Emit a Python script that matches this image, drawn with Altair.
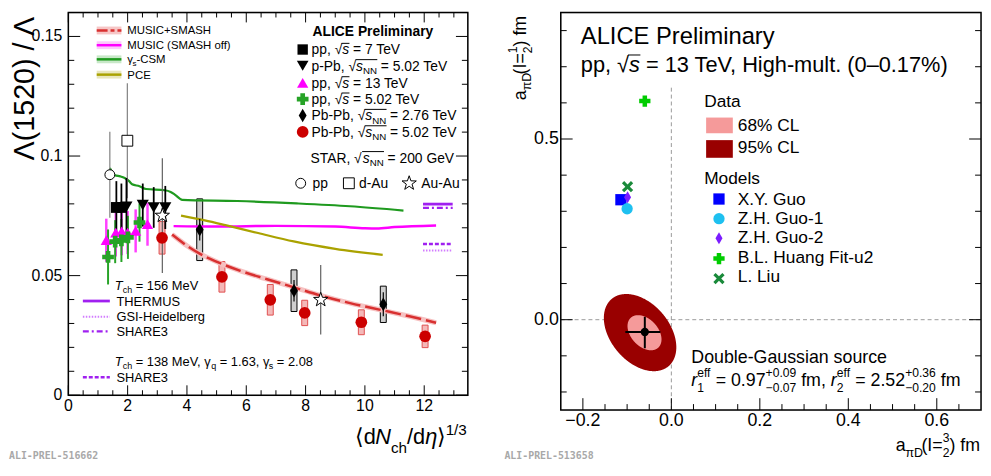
import numpy as np
import pandas as pd
import altair as alt

FONT = "Liberation Sans"

# ===================== LEFT PANEL : Lambda(1520)/Lambda =====================
pp7_x = [1.62, 1.79]
pp7_y = [0.0785, 0.0785]
pp7_err = [0.0110, 0.0100]

ppb_x = [1.96, 2.51, 2.88, 3.27]
ppb_y = [0.0788, 0.0795, 0.0785, 0.0785]
ppb_err = [0.0120, 0.0090, 0.0085, 0.0090]

pp13_x = [1.28, 1.60, 1.80, 2.00, 2.27, 2.67]
pp13_y = [0.0648, 0.0680, 0.0685, 0.0680, 0.0687, 0.0715]
pp13_err = [0.0090, 0.0100, 0.0100, 0.0090, 0.0090, 0.0090]

pp5_x = [1.34, 1.58, 1.79, 2.01, 2.40]
pp5_y = [0.0578, 0.0642, 0.0647, 0.0660, 0.0722]
pp5_err = [0.0115, 0.0090, 0.0090, 0.0090, 0.0080]

pb276_x = [4.43, 7.61, 10.62]
pb276_y = [0.0692, 0.0437, 0.0380]
pb276_stat = [0.0045, 0.0045, 0.0050]
pb276_sys = [0.0129, 0.0087, 0.0076]

pb502_x = [3.16, 5.18, 6.81, 7.97, 9.88, 12.03]
pb502_y = [0.0658, 0.0495, 0.0399, 0.0344, 0.0305, 0.0246]
pb502_sys = [0.0068, 0.0064, 0.0064, 0.0053, 0.0052, 0.0047]

star_pp_x, star_pp_y, star_pp_err = [1.40], [0.0922], [0.0180]
star_dau_x, star_dau_y, star_dau_err = [1.99], [0.1064], [0.0240]
star_auau_x, star_auau_y, star_auau_err = [3.17, 8.51], [0.0751, 0.0399], [0.0240, 0.0145]

music_smash_x = [3.5, 4.0, 4.4, 5.1, 5.8, 6.7, 7.5, 8.5, 9.5, 10.6, 11.5, 12.4]
music_smash_y = [0.0672, 0.0625, 0.0594, 0.0553, 0.0520, 0.0485, 0.0455, 0.0417, 0.0385, 0.0355, 0.0330, 0.0303]
music_x = [3.55, 5.0, 7.0, 9.0, 10.0, 10.4, 11.0, 12.4]
music_y = [0.0707, 0.0705, 0.0708, 0.0705, 0.0698, 0.0697, 0.0703, 0.0710]
csm_x = [1.40, 1.57, 1.75, 1.90, 2.05, 2.15, 2.40, 2.62, 3.25, 3.45, 3.60, 3.84, 5.7, 7.7, 9.5, 11.3]
csm_y = [0.0950, 0.0920, 0.0915, 0.0908, 0.0895, 0.0882, 0.0874, 0.0862, 0.0857, 0.0850, 0.0838, 0.0817, 0.0812, 0.0802, 0.0790, 0.0772]
pce_x = [3.8, 4.6, 5.3, 6.4, 7.6, 9.0, 10.6]
pce_y = [0.0751, 0.0731, 0.0711, 0.0678, 0.0643, 0.0612, 0.0587]

thermal_x = [11.96, 12.96]
thermus_y = [0.0799, 0.0799]
share3_156_y = [0.0783, 0.0783]
share3_138_y = [0.0632, 0.0632]
gsi_y = [0.0605, 0.0605]

L_XMAJ = [0, 2, 4, 6, 8, 10, 12]
L_XLAB = ["0", "2", "4", "6", "8", "10", "12"]
L_XMIN = [0.5, 1, 1.5, 2.5, 3, 3.5, 4.5, 5, 5.5, 6.5, 7, 7.5, 8.5, 9, 9.5, 10.5, 11, 11.5, 12.5, 13]
L_YMAJ = [0, 0.05, 0.1, 0.15]
L_YLAB = ["0", "0.05", "0.1", "0.15"]
L_YMIN = [0.01, 0.02, 0.03, 0.04, 0.06, 0.07, 0.08, 0.09, 0.11, 0.12, 0.13, 0.14, 0.16]

# ===================== RIGHT PANEL : scattering lengths =====================
model_names = ["X.Y. Guo", "Z.H. Guo-1", "Z.H. Guo-2", "B.L. Huang Fit-u2", "L. Liu"]
model_x = [-0.114, -0.100, -0.099, -0.060, -0.099]
model_y = [0.332, 0.307, 0.339, 0.605, 0.368]

meas_x, meas_y = [-0.060], [-0.034]
meas_xlo, meas_xhi = [-0.104], [-0.025]
meas_ylo, meas_yhi = [-0.079], [0.008]

cl_names = ["95% CL", "68% CL"]
cl_cx = [-0.0707, -0.0607]
cl_cy = [-0.0357, -0.0360]
cl_kx = [0.0819, 0.0384]
cl_ky = [0.1068, 0.0486]
cl_rho = [-0.38, -0.38]

R_XMAJ = [-0.2, 0.0, 0.2, 0.4, 0.6]
R_XLAB = ["−0.2", "0.0", "0.2", "0.4", "0.6"]
R_XMIN = [-0.15, -0.1, -0.05, 0.05, 0.1, 0.15, 0.25, 0.3, 0.35, 0.45, 0.5, 0.55, 0.65]
R_YMAJ = [0.0, 0.5]
R_YLAB = ["0.0", "0.5"]
R_YMIN = [-0.2, -0.1, 0.1, 0.2, 0.3, 0.4, 0.6, 0.7, 0.8]

# ===================== geometry / style =====================
W1, H1 = 404, 387
W2, H2 = 425, 402
X1D, Y1D = [0, 13.47], [0, 0.16]
X2D, Y2D = [-0.25, 0.70], [-0.25, 0.85]
xs1 = alt.Scale(domain=X1D, nice=False, zero=False)
ys1 = alt.Scale(domain=Y1D, nice=False, zero=False)
xs2 = alt.Scale(domain=X2D, nice=False, zero=False)
ys2 = alt.Scale(domain=Y2D, nice=False, zero=False)

C_RED, C_REDL, C_REDBAND = "#cc0000", "#d83030", "#f6c2c2"
C_MAG, C_GRN_P, C_GRN_L, C_OLV = "#ff00ff", "#27a327", "#1f9a1f", "#aaa200"
C_PUR, C_GSI = "#a020f0", "#d27cff"
MODEL_COLORS = ["#0000ff", "#1ec0f0", "#7b1cff", "#00cc00", "#1a8a3a"]
THIN_DIAMOND = "M0,-1L0.58,0L0,1L-0.58,0Z"
XCROSS = "M-1,-0.6L-0.6,-1L0,-0.4L0.6,-1L1,-0.6L0.4,0L1,0.6L0.6,1L0,0.4L-0.6,1L-1,0.6L-0.4,0Z"
STAR = ("M0,-1L0.235,-0.324L0.951,-0.309L0.38,0.124L0.588,0.809L0,0.4L-0.588,0.809"
        "L-0.38,0.124L-0.951,-0.309L-0.235,-0.324Z")
MODEL_SHAPES = ["square", "circle", THIN_DIAMOND, "cross", XCROSS]

ONE = pd.DataFrame({"a": [0]})

WID = {' ': .278, '!': .278, '%': .889, '(': .333, ')': .333, '+': .584, ',': .278, '-': .333, '.': .278,
       '/': .278, '=': .584, '–': .556, '−': .584, '√': .549, 'γ': .45, 'η': .55, 'π': .55, '⟨': .39,
       '⟩': .39, 'Λ': .667, 'A': .667, 'B': .667, 'C': .722, 'D': .722, 'E': .667, 'F': .611, 'G': .778,
       'H': .722, 'I': .278, 'J': .5, 'K': .667, 'L': .556, 'M': .833, 'N': .722, 'O': .778, 'P': .667,
       'Q': .778, 'R': .722, 'S': .667, 'T': .611, 'U': .722, 'V': .667, 'W': .944, 'X': .667, 'Y': .667,
       'Z': .611, 'a': .556, 'b': .556, 'c': .5, 'd': .556, 'e': .556, 'f': .278, 'g': .556, 'h': .556,
       'i': .222, 'j': .222, 'k': .5, 'l': .222, 'm': .833, 'n': .556, 'o': .556, 'p': .556, 'q': .556,
       'r': .333, 's': .5, 't': .278, 'u': .556, 'v': .5, 'w': .722, 'x': .5, 'y': .5, 'z': .5}


def tw(s, size):
    return sum(WID.get(c, 0.556) for c in s) * size


def compose(parts, x, y, size, rot=False, subdy=0.3, supdy=0.42, ovl=None):
    rows, adv = [], 0.0
    ov_start = None
    for p in parts:
        kind = p[0]
        if kind == 'ovs':
            ov_start = adv - 0.05 * size
            continue
        if kind == 'ove':
            if ovl is not None:
                ovl.append((x + ov_start, x + adv + 0.02 * size, y - 0.8 * size))
            continue
        if kind == 'stack':
            s = size * 0.68
            rows.append((p[1], s, 'normal', adv, -0.5 * size))
            rows.append((p[2], s, 'normal', adv, 0.33 * size))
            adv += max(tw(p[1], s), tw(p[2], s))
            continue
        text = p[1]
        if kind == 'sub':
            s, dy = size * 0.7, subdy * size
        elif kind == 'sup':
            s, dy = size * 0.7, -supdy * size
        else:
            s, dy = size, 0.0
        st = 'italic' if kind == 'i' else 'normal'
        lead = len(text) - len(text.lstrip(' '))
        core = text.strip(' ')
        if core:
            rows.append((core, s, st, adv + tw(' ' * lead, s), dy))
        adv += tw(text, s)
    out = []
    for t, s, st, dx, dy in rows:
        if rot:
            out.append(dict(px=x + dy, py=y - dx, t=t, s=s, st=st))
        else:
            out.append(dict(px=x + dx, py=y + dy, t=t, s=s, st=st))
    return out, adv


def L(xa, ya):
    return xa - 68, (ya - 5) * H1 / 390


def R(xa, ya):
    return xa - 563, (ya - 5) * H2 / 405


def conv1(px, py):
    return X1D[0] + px / W1 * (X1D[1] - X1D[0]), Y1D[1] - py / H1 * (Y1D[1] - Y1D[0])


def conv2(px, py):
    return X2D[0] + px / W2 * (X2D[1] - X2D[0]), Y2D[1] - py / H2 * (Y2D[1] - Y2D[0])


def text_layers(rows, conv, xs, ys, angle=0, color='black', weight='normal', font=FONT):
    if not rows:
        return []
    df = pd.DataFrame(rows)
    xd, yd = conv(df['px'].to_numpy(), df['py'].to_numpy())
    df = df.assign(xd=xd, yd=yd)
    out = []
    for st in ('normal', 'italic'):
        d = df[df['st'] == st]
        if d.empty:
            continue
        out.append(alt.Chart(d).mark_text(align='left', baseline='alphabetic', font=font, fontStyle=st,
                                          fontWeight=weight, angle=angle, color=color).encode(
            x=alt.X('xd:Q', scale=xs, axis=None), y=alt.Y('yd:Q', scale=ys, axis=None),
            text=alt.Text('t:N'), size=alt.Size('s:Q', scale=None, legend=None)))
    return out


def overline_layer(ovl, conv, xs, ys):
    a = np.array(ovl, float)
    x1, yy = conv(a[:, 0], a[:, 2])
    x2, _ = conv(a[:, 1], a[:, 2])
    d = pd.DataFrame({'x1': x1, 'x2': x2, 'y': yy})
    return alt.Chart(d).mark_rule(color='black', strokeWidth=1).encode(
        x=alt.X('x1:Q', scale=xs, axis=None), x2='x2:Q', y=alt.Y('y:Q', scale=ys, axis=None))


def pt_px(px, py, shape, size, fill, stroke=None, sw=1.0):
    kw = dict(shape=shape, size=size, filled=True, fill=fill, opacity=1)
    if stroke:
        kw.update(stroke=stroke, strokeWidth=sw)
    else:
        kw.update(strokeWidth=0)
    return alt.Chart(ONE).mark_point(**kw).encode(x=alt.value(px), y=alt.value(py))


def rule_px(x1, x2, y, color, width, dash=None):
    kw = dict(color=color, strokeWidth=width)
    if dash:
        kw['strokeDash'] = dash
    return alt.Chart(ONE).mark_rule(**kw).encode(x=alt.value(x1), x2=alt.value(x2), y=alt.value(y))


def rect_px(x1, x2, y1, y2, color):
    return alt.Chart(ONE).mark_rect(color=color, opacity=1).encode(
        x=alt.value(x1), x2=alt.value(x2), y=alt.value(y1), y2=alt.value(y2))


def frame_px(W, H):
    return alt.Chart(ONE).mark_rect(fillOpacity=0, stroke='black', strokeWidth=1.5).encode(
        x=alt.value(0), x2=alt.value(W), y=alt.value(0), y2=alt.value(H))


def tick_layers(xs, ys, W, H, xmaj, xmin, ymaj, ymin, lx, ly, top=True):
    out = []
    for vals, ln in ((xmaj, lx[0]), (xmin, lx[1])):
        d = pd.DataFrame({'v': vals})
        out.append(alt.Chart(d).mark_rule(color='black', strokeWidth=1).encode(
            x=alt.X('v:Q', scale=xs, axis=None), y=alt.value(H), y2=alt.value(H - ln)))
        if top:
            out.append(alt.Chart(d).mark_rule(color='black', strokeWidth=1).encode(
                x=alt.X('v:Q', scale=xs, axis=None), y=alt.value(0), y2=alt.value(ln)))
    for vals, ln in ((ymaj, ly[0]), (ymin, ly[1])):
        d = pd.DataFrame({'v': vals})
        out.append(alt.Chart(d).mark_rule(color='black', strokeWidth=1).encode(
            y=alt.Y('v:Q', scale=ys, axis=None), x=alt.value(0), x2=alt.value(ln)))
        out.append(alt.Chart(d).mark_rule(color='black', strokeWidth=1).encode(
            y=alt.Y('v:Q', scale=ys, axis=None), x=alt.value(W), x2=alt.value(W - ln)))
    return out


def tick_labels(xs, ys, H, xvals, xlabs, yvals, ylabs, size, xpad, ypad):
    dx = pd.DataFrame({'v': xvals, 'lab': xlabs})
    dy = pd.DataFrame({'v': yvals, 'lab': ylabs})
    return [
        alt.Chart(dx).mark_text(align='center', baseline='top', font=FONT, fontSize=size, color='black').encode(
            x=alt.X('v:Q', scale=xs, axis=None), y=alt.value(H + xpad), text='lab:N'),
        alt.Chart(dy).mark_text(align='right', baseline='middle', font=FONT, fontSize=size, color='black').encode(
            y=alt.Y('v:Q', scale=ys, axis=None), x=alt.value(-ypad), text='lab:N'),
    ]


def errdf(x, y, e):
    y = np.asarray(y, float)
    e = np.asarray(e, float)
    return pd.DataFrame({'x': x, 'y': y, 'lo': y - e, 'hi': y + e})


def err_layer(df, xs, ys, color, width):
    return alt.Chart(df).mark_rule(color=color, strokeWidth=width).encode(
        x=alt.X('x:Q', scale=xs, axis=None), y=alt.Y('lo:Q', scale=ys, axis=None), y2='hi:Q')


def pts_layer(df, xs, ys, shape, size, fill, stroke=None, sw=1.0):
    kw = dict(shape=shape, size=size, filled=True, fill=fill, opacity=1)
    if stroke:
        kw.update(stroke=stroke, strokeWidth=sw)
    else:
        kw.update(strokeWidth=0)
    return alt.Chart(df).mark_point(**kw).encode(
        x=alt.X('x:Q', scale=xs, axis=None), y=alt.Y('y:Q', scale=ys, axis=None))


def line_layer(x, y, xs, ys, color, width, dash=None):
    kw = dict(color=color, strokeWidth=width, interpolate='monotone')
    if dash:
        kw['strokeDash'] = dash
    return alt.Chart(pd.DataFrame({'x': x, 'y': y})).mark_line(**kw).encode(
        x=alt.X('x:Q', scale=xs, axis=None), y=alt.Y('y:Q', scale=ys, axis=None))


def box_layer(x, y, e, half, xs, ys, fill, stroke):
    x = np.asarray(x, float)
    y = np.asarray(y, float)
    e = np.asarray(e, float)
    d = pd.DataFrame({'x1': x - half, 'x2': x + half, 'y1': y - e, 'y2': y + e})
    return alt.Chart(d).mark_rect(fill=fill, stroke=stroke, strokeWidth=1, opacity=1).encode(
        x=alt.X('x1:Q', scale=xs, axis=None), x2='x2:Q',
        y=alt.Y('y1:Q', scale=ys, axis=None), y2='y2:Q')


# ===================== LEFT PANEL LAYERS =====================
lay1 = []
lay1.append(box_layer(pb502_x, pb502_y, pb502_sys, 0.1, xs1, ys1, "#f4b8b8", "#e05050"))
lay1.append(box_layer(pb276_x, pb276_y, pb276_sys, 0.1, xs1, ys1, "#cfcfcf", "black"))

lay1.append(line_layer(music_smash_x, music_smash_y, xs1, ys1, C_REDBAND, 5))
lay1.append(line_layer(music_smash_x, music_smash_y, xs1, ys1, C_REDL, 2.5, [16, 5]))
lay1.append(line_layer(music_x, music_y, xs1, ys1, C_MAG, 2.5))
lay1.append(line_layer(csm_x, csm_y, xs1, ys1, C_GRN_L, 2.2))
lay1.append(line_layer(pce_x, pce_y, xs1, ys1, C_OLV, 2.2))
lay1.append(line_layer(thermal_x, thermus_y, xs1, ys1, C_PUR, 2.8))
lay1.append(line_layer(thermal_x, share3_156_y, xs1, ys1, C_PUR, 2.2, [6, 3, 2, 3]))
lay1.append(line_layer(thermal_x, share3_138_y, xs1, ys1, C_PUR, 2.5, [4, 2]))
lay1.append(line_layer(thermal_x, gsi_y, xs1, ys1, C_GSI, 2.0, [1.5, 1.5]))

lay1.append(err_layer(errdf(star_pp_x, star_pp_y, star_pp_err), xs1, ys1, "#808080", 1.2))
lay1.append(err_layer(errdf(star_dau_x, star_dau_y, star_dau_err), xs1, ys1, "#808080", 1.2))
lay1.append(err_layer(errdf(star_auau_x, star_auau_y, star_auau_err), xs1, ys1, "#606060", 1.2))
lay1.append(err_layer(errdf(pp13_x, pp13_y, pp13_err), xs1, ys1, "#ff40ff", 2.5))
lay1.append(err_layer(errdf(pp5_x, pp5_y, pp5_err), xs1, ys1, C_GRN_P, 2.0))
lay1.append(err_layer(errdf(pp7_x, pp7_y, pp7_err), xs1, ys1, "black", 1.8))
lay1.append(err_layer(errdf(ppb_x, ppb_y, ppb_err), xs1, ys1, "black", 1.8))
lay1.append(err_layer(errdf(pb276_x, pb276_y, pb276_stat), xs1, ys1, "black", 1.2))

lay1.append(pts_layer(errdf(star_pp_x, star_pp_y, star_pp_err), xs1, ys1, "circle", 100, "white", "black", 1.0))
lay1.append(pts_layer(errdf(star_dau_x, star_dau_y, star_dau_err), xs1, ys1, "square", 120, "white", "black", 1.0))
lay1.append(pts_layer(errdf(star_auau_x, star_auau_y, star_auau_err), xs1, ys1, STAR, 230, "white", "black", 1.0))
lay1.append(pts_layer(errdf(pp13_x, pp13_y, pp13_err), xs1, ys1, "triangle-up", 130, C_MAG))
lay1.append(pts_layer(errdf(pp5_x, pp5_y, pp5_err), xs1, ys1, "cross", 140, C_GRN_P))
lay1.append(pts_layer(errdf(pp7_x, pp7_y, pp7_err), xs1, ys1, "square", 120, "black"))
lay1.append(pts_layer(errdf(ppb_x, ppb_y, ppb_err), xs1, ys1, "triangle-down", 150, "black"))
lay1.append(pts_layer(errdf(pb276_x, pb276_y, pb276_stat), xs1, ys1, THIN_DIAMOND, 190, "black"))
lay1.append(pts_layer(errdf(pb502_x, pb502_y, pb502_sys), xs1, ys1, "circle", 140, C_RED))

for yc, band, col, w, dash in ((23.3, "#f6c6c6", C_REDL, 2.5, [11, 3, 4, 3]),
                               (38.3, "#fccafc", C_MAG, 2.5, None),
                               (52.7, "#c8e8c8", C_GRN_L, 2.5, None),
                               (68.3, "#e8e6bc", C_OLV, 2.5, None)):
    x1, y1 = L(96.7, yc - 4)
    x2, y2 = L(121.7, yc + 4)
    lay1.append(rect_px(x1, x2, y1, y2, band))
    xa, ya = L(96.7, yc)
    xb, _ = L(121.7, yc)
    lay1.append(rule_px(xa, xb, ya, col, w, dash))

for yc, col, w, dash in ((299, C_PUR, 2.8, None), (315, C_GSI, 2.0, [1.5, 1.5]),
                         (330, C_PUR, 2.2, [6, 3, 2, 3]), (376.7, C_PUR, 2.5, [4, 2])):
    xa, ya = L(82.7, yc)
    xb, _ = L(110, yc)
    lay1.append(rule_px(xa, xb, ya, col, w, dash))

for yc, shape, size, fill in ((42.7, "square", 110, "black"),
                              (59.3, "triangle-down", 140, "black"),
                              (76.7, "triangle-up", 130, C_MAG),
                              (93.3, "cross", 140, C_GRN_P),
                              (110, THIN_DIAMOND, 190, "black"),
                              (126.7, "circle", 140, C_RED)):
    lay1.append(pt_px(*L(305, yc), shape, size, fill))
lay1.append(pt_px(*L(303, 179), "circle", 100, "white", "black", 1.0))
lay1.append(pt_px(*L(351.7, 179), "square", 120, "white", "black", 1.0))
lay1.append(pt_px(*L(412.7, 179), STAR, 230, "white", "black", 1.0))

LT = []
OVL1 = []


def addL(parts, xa, ya, size, **kw):
    px, py = L(xa, ya)
    rows, w = compose(parts, px, py, size, ovl=OVL1, **kw)
    LT.extend(rows)
    return w


addL([('n', 'MUSIC+SMASH')], 127.7, 27.3, 11.5)
addL([('n', 'MUSIC (SMASH off)')], 127.7, 42.3, 11.5)
addL([('n', 'γ'), ('sub', 's'), ('n', '-CSM')], 127.7, 56.7, 11.5, subdy=0.25)
addL([('n', 'PCE')], 127.7, 72.3, 11.5)

SQ_S = [('ovs',), ('i', 's'), ('ove',)]
SQ_NN = [('ovs',), ('i', 's'), ('sub', 'NN'), ('ove',)]
addL([('n', 'pp, √')] + SQ_S + [('n', ' = 7 TeV')], 314, 47.7, 14)
addL([('n', 'p-Pb, √')] + SQ_NN + [('n', ' = 5.02 TeV')], 314, 64.3, 14, subdy=0.24)
addL([('n', 'pp, √')] + SQ_S + [('n', ' = 13 TeV')], 314, 81.7, 14)
addL([('n', 'pp, √')] + SQ_S + [('n', ' = 5.02 TeV')], 314, 98.3, 14)
addL([('n', 'Pb-Pb, √')] + SQ_NN + [('n', ' = 2.76 TeV')], 314, 115, 14, subdy=0.24)
addL([('n', 'Pb-Pb, √')] + SQ_NN + [('n', ' = 5.02 TeV')], 314, 131.7, 14, subdy=0.24)
addL([('n', 'STAR, √')] + SQ_NN + [('n', ' = 200 GeV')], 313, 158, 14, subdy=0.24)
addL([('n', 'pp')], 315, 184, 14)
addL([('n', 'd-Au')], 362, 184, 14)
addL([('n', 'Au-Au')], 425, 184, 14)

addL([('i', 'T'), ('sub', 'ch'), ('n', ' = 156 MeV')], 115, 287.5, 13, subdy=0.22)
addL([('n', 'THERMUS')], 116.7, 303.7, 13)
addL([('n', 'GSI-Heidelberg')], 116.7, 319.7, 13)
addL([('n', 'SHARE3')], 116.7, 334.7, 13)
addL([('i', 'T'), ('sub', 'ch'), ('n', ' = 138 MeV, γ'), ('sub', 'q'), ('n', ' = 1.63, γ'), ('sub', 's'),
      ('n', ' = 2.08')], 115, 365.5, 13, subdy=0.22)
addL([('n', 'SHARE3')], 116.7, 382, 13)

xt_parts = [('n', '⟨d'), ('i', 'N'), ('sub', 'ch'), ('n', '/d'), ('i', 'η'), ('n', '⟩'), ('sup', '1/3')]
_, wxt = compose(xt_parts, 0, 0, 22)
addL(xt_parts, 471 - wxt, 445, 22, subdy=0.42)

yt_parts = [('n', 'Λ(1520) / Λ')]
_, wyt = compose(yt_parts, 0, 0, 29)
px, py = L(33, 9 + wyt)
yt_rows, _ = compose(yt_parts, px, py, 29, rot=True)

lay1 += text_layers(LT, conv1, xs1, ys1)
lay1.append(overline_layer(OVL1, conv1, xs1, ys1))
lay1 += text_layers(yt_rows, conv1, xs1, ys1, angle=270)
bold_rows, _ = compose([('n', 'ALICE Preliminary')], *L(315, 29), 14)
lay1 += text_layers(bold_rows, conv1, xs1, ys1, weight='bold')
wm_rows, _ = compose([('n', 'ALI-PREL-516662')], *L(8, 460), 10)
lay1 += text_layers(wm_rows, conv1, xs1, ys1, color='#a8a8a8', weight='bold', font='DejaVu Sans Mono')

lay1 += tick_layers(xs1, ys1, W1, H1, L_XMAJ, L_XMIN, L_YMAJ, L_YMIN, (10, 5), (12, 6), top=True)
lay1 += tick_labels(xs1, ys1, H1, L_XMAJ, L_XLAB, L_YMAJ, L_YLAB, 16, 3, 6)
lay1.append(frame_px(W1, H1))

left = alt.layer(*lay1).properties(width=W1, height=H1)

# ===================== RIGHT PANEL LAYERS =====================
lay2 = []
lay2.append(alt.Chart(pd.DataFrame({'y': [0.0]})).mark_rule(color='#9a9a9a', strokeWidth=1, strokeDash=[4, 3]).encode(
    y=alt.Y('y:Q', scale=ys2, axis=None), x=alt.value(0), x2=alt.value(W2)))
lay2.append(alt.Chart(pd.DataFrame({'x': [0.0], 'y1': [Y2D[0]], 'y2': [0.65]})).mark_rule(
    color='#9a9a9a', strokeWidth=1, strokeDash=[4, 3]).encode(
    x=alt.X('x:Q', scale=xs2, axis=None), y=alt.Y('y1:Q', scale=ys2, axis=None), y2='y2:Q'))

for i, col in ((0, "#990000"), (1, "#f59a9a")):
    t = np.linspace(np.pi, 0, 241)
    c = np.cos(t)
    s = np.sqrt(np.clip((1 - cl_rho[i] ** 2) * (1 - c ** 2), 0, None))
    d = pd.DataFrame({'x': cl_cx[i] + cl_kx[i] * c,
                      'ylo': cl_cy[i] + cl_ky[i] * (cl_rho[i] * c - s),
                      'yhi': cl_cy[i] + cl_ky[i] * (cl_rho[i] * c + s)})
    lay2.append(alt.Chart(d).mark_area(color=col, opacity=1, interpolate='linear').encode(
        x=alt.X('x:Q', scale=xs2, axis=None), y=alt.Y('ylo:Q', scale=ys2, axis=None), y2='yhi:Q'))

md = pd.DataFrame({'x': meas_x, 'y': meas_y, 'xlo': meas_xlo, 'xhi': meas_xhi, 'ylo': meas_ylo, 'yhi': meas_yhi})
lay2.append(alt.Chart(md).mark_rule(color='black', strokeWidth=2).encode(
    x=alt.X('xlo:Q', scale=xs2, axis=None), x2='xhi:Q', y=alt.Y('y:Q', scale=ys2, axis=None)))
lay2.append(alt.Chart(md).mark_rule(color='black', strokeWidth=2).encode(
    x=alt.X('x:Q', scale=xs2, axis=None), y=alt.Y('ylo:Q', scale=ys2, axis=None), y2='yhi:Q'))
lay2.append(pts_layer(md, xs2, ys2, "circle", 70, "black"))

for i in range(len(model_names)):
    d = pd.DataFrame({'x': [model_x[i]], 'y': [model_y[i]]})
    lay2.append(pts_layer(d, xs2, ys2, MODEL_SHAPES[i], 130 if i != 2 else 150, MODEL_COLORS[i]))

x1, y1 = R(710, 112)
x2, y2 = R(737, 128)
lay2.append(rect_px(x1, x2, y1, y2, "#f59a9a"))
x1, y1 = R(710, 135)
x2, y2 = R(737, 153)
lay2.append(rect_px(x1, x2, y1, y2, "#990000"))
for i, yc in enumerate([195, 215, 235, 255.7, 276]):
    lay2.append(pt_px(*R(723, yc), MODEL_SHAPES[i], 130 if i != 2 else 150, MODEL_COLORS[i]))

RT = []
OVL2 = []


def addR(parts, xa, ya, size, **kw):
    px, py = R(xa, ya)
    rows, w = compose(parts, px, py, size, ovl=OVL2, **kw)
    RT.extend(rows)
    return w


addR([('n', 'ALICE Preliminary')], 583.3, 36.7, 24)
addR([('n', 'pp, √')] + SQ_S + [('n', ' = 13 TeV, High-mult. (0–0.17%)')], 583.3, 66, 22)
addR([('n', 'Data')], 708, 101.7, 17.5)
addR([('n', '68% CL')], 742, 126, 17.5)
addR([('n', '95% CL')], 742, 148.3, 17.5)
addR([('n', 'Models')], 708, 180, 17.5)
for name, bl in zip(model_names, [200.7, 220.7, 240, 260, 280]):
    addR([('n', name)], 742, bl, 17.5)
addR([('n', 'Double-Gaussian source')], 695, 361.7, 18)
addR([('i', 'r'), ('stack', 'eff', '1'), ('n', ' = 0.97'), ('stack', '+0.09', '−0.07'), ('n', ' fm, '),
      ('i', 'r'), ('stack', 'eff', '2'), ('n', ' = 2.52'), ('stack', '+0.36', '−0.20'), ('n', ' fm')],
     695, 385.7, 18)
rx_parts = [('n', 'a'), ('sub', 'πD'), ('n', '(I='), ('stack', '3', '2'), ('n', ') fm')]
_, wrx = compose(rx_parts, 0, 0, 18)
addR(rx_parts, 987 - wrx, 452, 18)

ry_parts = [('n', 'a'), ('sub', 'πD'), ('n', '(I='), ('stack', '1', '2'), ('n', ') fm')]
_, wry = compose(ry_parts, 0, 0, 18)
px, py = R(528, 9 + wry)
ry_rows, _ = compose(ry_parts, px, py, 18, rot=True)

lay2 += text_layers(RT, conv2, xs2, ys2)
lay2.append(overline_layer(OVL2, conv2, xs2, ys2))
lay2 += text_layers(ry_rows, conv2, xs2, ys2, angle=270)
wm2_rows, _ = compose([('n', 'ALI-PREL-513658')], *R(506, 460), 10)
lay2 += text_layers(wm2_rows, conv2, xs2, ys2, color='#a8a8a8', weight='bold', font='DejaVu Sans Mono')

lay2 += tick_layers(xs2, ys2, W2, H2, R_XMAJ, R_XMIN, R_YMAJ, R_YMIN, (12, 6), (12, 6), top=False)
lay2 += tick_labels(xs2, ys2, H2, R_XMAJ, R_XLAB, R_YMAJ, R_YLAB, 18, 2, 2)
lay2.append(frame_px(W2, H2))

right = alt.layer(*lay2).properties(width=W2, height=H2)

chart = (alt.hconcat(left, right, spacing=34)
         .resolve_scale(x='independent', y='independent')
         .properties(padding=0, background='white')
         .configure_view(stroke='black', strokeWidth=1.5)
         .configure(font=FONT))

chart.save("out.html", embed_options={"renderer": "svg", "actions": False})
